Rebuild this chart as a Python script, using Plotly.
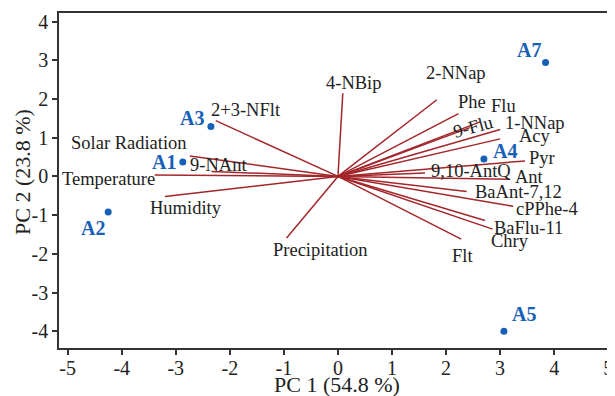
import plotly.graph_objects as go

# ---- data ----
samples = ["A1", "A2", "A3", "A4", "A5", "A7"]
score_pc1 = [-2.87, -4.25, -2.35, 2.70, 3.07, 3.84]
score_pc2 = [0.37, -0.92, 1.29, 0.45, -4.00, 2.94]

variables = ["2+3-NFlt", "Solar Radiation", "9-NAnt", "Temperature", "Humidity",
             "Precipitation", "4-NBip", "2-NNap", "Phe", "Flu", "9-Flu", "1-NNap",
             "Acy", "Pyr", "9,10-AntQ", "Ant", "BaAnt-7,12", "cPPhe-4", "BaFlu-11",
             "Chry", "Flt"]
load_pc1 = [-2.26, -2.74, -2.34, -3.39, -3.20, -0.95, 0.09, 1.83, 2.23, 2.63, 2.44,
            3.00, 3.00, 3.46, 1.61, 3.18, 2.38, 3.24, 2.72, 2.86, 2.28]
load_pc2 = [1.44, 0.53, 0.13, 0.04, -0.52, -1.59, 2.15, 1.98, 1.62, 1.41, 1.26,
            1.21, 0.97, 0.40, 0.09, -0.07, -0.39, -0.77, -1.14, -1.36, -1.62]

x_ticks = [-5, -4, -3, -2, -1, 0, 1, 2, 3, 4, 5]
x_ticklabels = ["-5", "-4", "-3", "-2", "-1", "0", "1", "2", "3", "4", "5"]
y_ticks = [-4, -3, -2, -1, 0, 1, 2, 3, 4]
y_ticklabels = ["-4", "-3", "-2", "-1", "0", "1", "2", "3", "4"]
x_title = "PC 1 (54.8 %)"
y_title = "PC 2 (23.8 %)"

# ---- label placement (pixel offsets from the line end / point) ----
var_offsets = {
    "2+3-NFlt": (30, 11), "Solar Radiation": (-61, 13), "9-NAnt": (7, 6),
    "Temperature": (-46, -4), "Humidity": (21, -11), "Precipitation": (34, -12),
    "4-NBip": (11, 10), "2-NNap": (19, 27), "Phe": (13, 12), "Flu": (23, 16),
    "9-Flu": (3, 1), "1-NNap": (35, 7), "Acy": (35, 3), "Pyr": (17, 3),
    "9,10-AntQ": (46, 2), "Ant": (20, 2), "BaAnt-7,12": (52, 0),
    "cPPhe-4": (34, -3), "BaFlu-11": (44, -7), "Chry": (17, -12), "Flt": (1, -17),
}
var_angles = {"9-Flu": -15}
sample_offsets = {"A1": (-19, 0), "A2": (-15, -16), "A3": (-19, 8),
                  "A4": (21, 8), "A5": (20, 17), "A7": (-17, 13)}

RED = "#a3262a"
BLUE = "#1660b8"
FONT = "Liberation Serif"

# The page body has an 8 px default margin; the figure is sized to fill the
# rest of the 615x396 window.
PAGE = 8
W, H = 615 - PAGE, 396 - PAGE
ML, MT, MR = 59 - PAGE, 13 - PAGE, 0
MB = H - (348 - PAGE)

fig = go.Figure()

lx, ly = [], []
for a, b in zip(load_pc1, load_pc2):
    lx += [0, a, None]
    ly += [0, b, None]
fig.add_trace(go.Scatter(x=lx, y=ly, mode="lines",
                         line=dict(color=RED, width=1.5), hoverinfo="skip"))

fig.add_trace(go.Scatter(x=score_pc1, y=score_pc2, mode="markers",
                         marker=dict(color=BLUE, size=7), hoverinfo="skip"))

ann = []
for name, a, b in zip(variables, load_pc1, load_pc2):
    dx, dy = var_offsets[name]
    ann.append(dict(x=a, y=b, xref="x", yref="y", text=name, showarrow=False,
                    xshift=dx, yshift=dy, textangle=var_angles.get(name, 0),
                    xanchor="center", yanchor="middle",
                    font=dict(family=FONT, size=18.5, color="#222222")))
for name, a, b in zip(samples, score_pc1, score_pc2):
    dx, dy = sample_offsets[name]
    ann.append(dict(x=a, y=b, xref="x", yref="y", text="<b>" + name + "</b>",
                    showarrow=False, xshift=dx, yshift=dy,
                    xanchor="center", yanchor="middle",
                    font=dict(family=FONT, size=20, color=BLUE)))

# axis titles placed by window pixel centre, converted to paper coordinates
def px_to_paper(px, py):
    px -= PAGE
    py -= PAGE
    return (px - ML) / (W - ML - MR), 1 - (py - MT) / (H - MT - MB)

tx, ty = px_to_paper(337, 384)
ann.append(dict(x=tx, y=ty, xref="paper", yref="paper", text=x_title,
                showarrow=False, xanchor="center", yanchor="middle",
                font=dict(family=FONT, size=22, color="#222222")))
tx, ty = px_to_paper(22, 172)
ann.append(dict(x=tx, y=ty, xref="paper", yref="paper", text=y_title,
                showarrow=False, textangle=-90, xanchor="center", yanchor="middle",
                font=dict(family=FONT, size=22, color="#222222")))

fig.update_layout(
    width=W, height=H,
    margin=dict(l=ML, r=MR, t=MT, b=MB, autoexpand=False),
    paper_bgcolor="white", plot_bgcolor="white",
    showlegend=False,
    annotations=ann,
    font=dict(family=FONT, size=20, color="#222222"),
)
fig.update_xaxes(range=[-5.16, 5.125], tickvals=x_ticks, ticktext=x_ticklabels,
                 showgrid=False, automargin=False, ticklabelstandoff=-4,
                 zeroline=False, showline=True, linecolor="#333333", linewidth=1.5,
                 mirror=True, ticks="outside", ticklen=5, tickwidth=1.5,
                 tickcolor="#333333", tickfont=dict(family=FONT, size=20))
fig.update_yaxes(range=[-4.43, 4.22], tickvals=y_ticks, ticktext=y_ticklabels,
                 showgrid=False, automargin=False,
                 zeroline=False, showline=True, linecolor="#333333", linewidth=1.5,
                 mirror=False, ticks="outside", ticklen=5, tickwidth=1.5,
                 tickcolor="#333333", tickfont=dict(family=FONT, size=20))

fig.write_html("out.html")
